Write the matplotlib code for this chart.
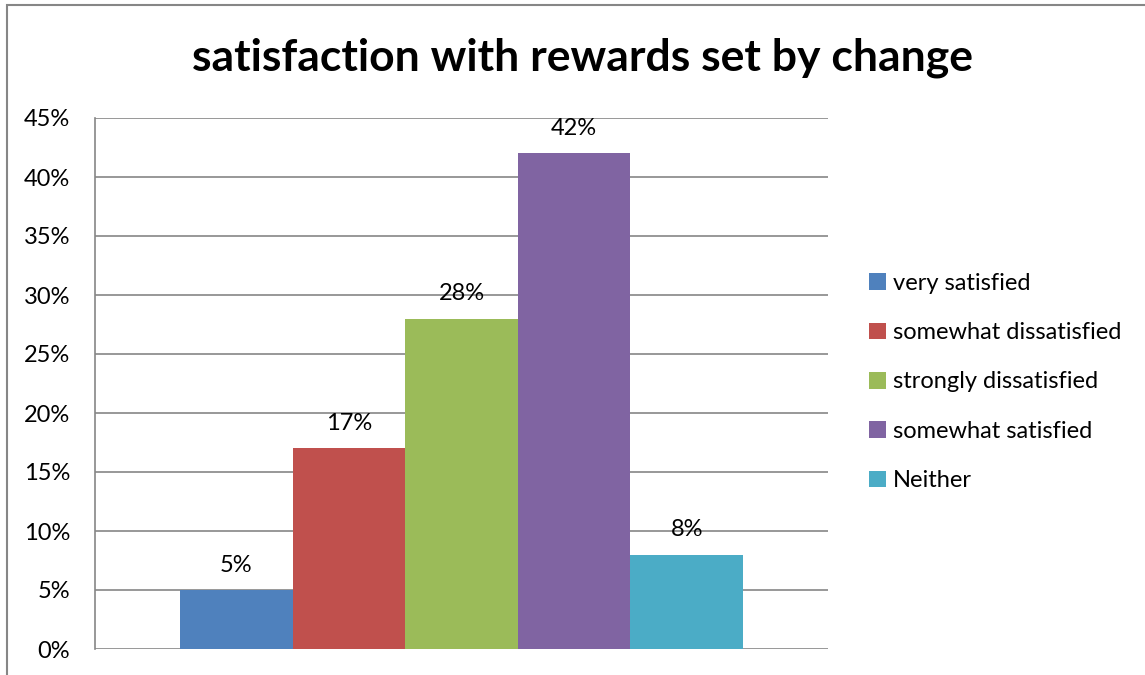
import matplotlib
matplotlib.use("Agg")
import matplotlib.pyplot as plt
from matplotlib.patches import Rectangle
import numpy as np

plt.rcParams['font.family'] = ['Lato', 'DejaVu Sans']

series = ["very satisfied", "somewhat dissatisfied", "strongly dissatisfied",
          "somewhat satisfied", "Neither"]
values = [5, 17, 28, 42, 8]
colors = ["#4F81BD", "#C0504D", "#9BBB59", "#8064A2", "#4BACC6"]
yticks = [0, 5, 10, 15, 20, 25, 30, 35, 40, 45]

fs = 17

fig = plt.figure(figsize=(11.45, 6.75), dpi=100)
# outer chart border
fig.patches.append(Rectangle((7 / 1145, -0.1), 1.2, 1.1 - 5 / 675,
                             transform=fig.transFigure, fill=False,
                             edgecolor="#868686", linewidth=1.5))

ax = fig.add_axes([95 / 1145, 1 - 649 / 675, 733 / 1145, (649 - 118) / 675])

w = 0.1536
n = len(values)
for i, (name, v, c) in enumerate(zip(series, values, colors)):
    x = (i - (n - 1) / 2) * w
    ax.bar(x, v, width=w, color=c, label=name, zorder=3)
    ax.text(x, v + 1.2, f"{v}%", ha="center", va="bottom", fontsize=fs)

ax.set_xlim(-0.5, 0.5)
ax.set_ylim(0, 45)
ax.set_yticks(yticks)
ax.set_yticklabels([f"{t}%" for t in yticks], fontsize=fs)
ax.set_xticks([])
ax.yaxis.grid(True, color="#868686", linewidth=1.2, zorder=0)
ax.tick_params(axis="y", length=0, pad=18)
for s in ["top", "right", "bottom"]:
    ax.spines[s].set_visible(False)
ax.spines["left"].set_color("#868686")
ax.spines["left"].set_linewidth(1.2)

fig.text(582 / 1145, 1 - 58 / 675, "satisfaction with rewards set by change",
         ha="center", va="center", fontsize=32, fontweight="bold")

fig.legend(loc="center left", bbox_to_anchor=(848 / 1145, 1 - 382 / 675),
           frameon=False, fontsize=fs, handlelength=0.7, handleheight=0.7,
           handletextpad=0.3, labelspacing=1.2)

fig.savefig("out.png", dpi=100)
